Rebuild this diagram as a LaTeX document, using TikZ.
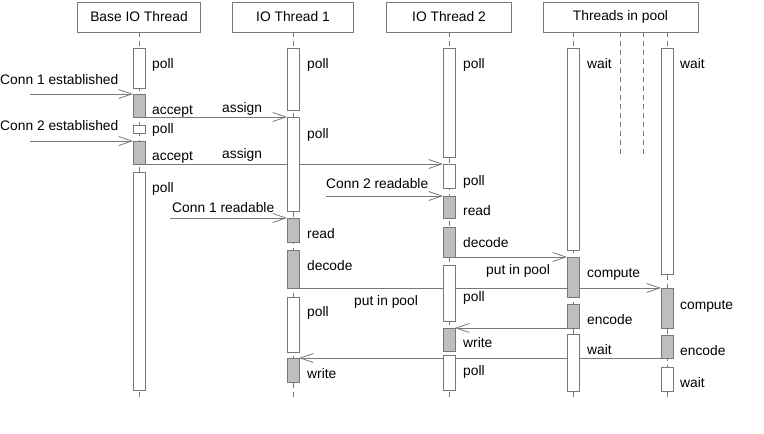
\documentclass[tikz,border=0pt]{standalone}
\usepackage{fontspec}
\setmainfont{Liberation Sans}
\usetikzlibrary{arrows.meta,backgrounds}

\definecolor{edgegrey}{RGB}{120,120,120}
\definecolor{busygrey}{RGB}{190,190,190}

\tikzset{
  head/.style={draw=edgegrey, line width=0.8pt, fill=white, minimum height=30pt, inner sep=0pt},
  bar/.style={draw=edgegrey, line width=0.8pt, minimum width=12pt, inner sep=0pt, outer sep=0pt},
  idle/.style={fill=white},
  busy/.style={fill=busygrey},
  life/.style={draw=edgegrey, line width=0.7pt, dash pattern=on 5pt off 4pt},
  msg/.style={draw=edgegrey, line width=0.8pt, -{Straight Barb[length=13pt,width=9pt]}},
  tag/.style={anchor=west, inner sep=0pt, text height=10pt, text depth=0pt}
}

\begin{document}
\begin{tikzpicture}[x=1pt, y=-1pt, font=\fontsize{13.8}{16}\selectfont]
  \useasboundingbox (0,0) rectangle (764,434);

  % thread heads
  \node[head, minimum width=123pt] (hbase) at (139,17) {Base IO Thread};
  \node[head, minimum width=121pt] (hone)  at (293,17) {IO Thread 1};
  \node[head, minimum width=125pt] (htwo)  at (449,17) {IO Thread 2};
  \node[head, minimum width=155pt] (hpool) at (620.5,17) {Threads in pool};

  % activation bars: name / x / top / bottom / kind
  \foreach \nm / \x / \t / \b / \kind in {
    bp1/139/48/88/idle, ba1/139/94/117/busy, bp2/139/125/133/idle,
    ba2/139/141/164/busy, bp3/139/172/390/idle,
    ap1/293/48/110/idle, ap2/293/117/211/idle, ar/293/218/242/busy,
    ad/293/250/288/busy, ap3/293/297/352/idle, aw/293/358/382/busy,
    cp1/449/48/157/idle, cp2/449/164/188/idle, cr/449/196/218/busy,
    cd/449/227/257/busy, cp3/449/265/321/idle, cw/449/328/351/busy,
    cp4/449/355/390/idle,
    dw1/573/48/250/idle, dc/573/257/297/busy, de/573/304/328/busy,
    dw2/573/334/391/idle,
    ew1/667/48/274/idle, ec/667/288/328/busy, ee/667/335/358/busy,
    ew2/667/367/391/idle}{
    \node[bar, \kind, minimum height={(\b-\t)*1pt}] (\nm) at (\x,{(\t+\b)/2}) {};
  }

  % state labels
  \foreach \x / \y / \txt [count=\i] in {
    152/63/poll, 152/109/accept, 152/128/poll, 152/155/accept, 152/187/poll,
    307/63/poll, 307/133/poll, 307/233/read, 307/265/decode, 307/311/poll, 307/373/write,
    463/63/poll, 463/180/poll, 463/210/read, 463/242/decode, 463/296/poll,
    463/342/write, 463/370/poll,
    587/63/wait, 587/272/compute, 587/319/encode, 587/349/wait,
    680/63/wait, 680/304/compute, 680/350/encode, 680/382/wait}{
    \node[tag] (st-\i) at (\x,\y) {\txt};
  }

  % message labels
  \node[tag] (lc1) at (0,79)   {Conn 1 established};
  \node[tag] (lc2) at (0,125)  {Conn 2 established};
  \node[tag] (las1) at (222,107) {assign};
  \node[tag] (las2) at (222,153) {assign};
  \node[tag] (lrd1) at (172,207) {Conn 1 readable};
  \node[tag] (lrd2) at (326,183) {Conn 2 readable};
  \node[tag] (lpp1) at (486,269) {put in pool};
  \node[tag] (lpp2) at (354,300) {put in pool};

  % free ends of incoming events
  \coordinate (in1) at (30,94);
  \coordinate (in2) at (30,141);
  \coordinate (in3) at (170,218);
  \coordinate (in4) at (326,196);

  \coordinate (endbase) at (139,397);
  \coordinate (endone)  at (293,397);
  \coordinate (endtwo)  at (449,397);
  \coordinate (endp1)   at (573,397);
  \coordinate (endp2)   at (667,397);
  \coordinate (endx1)   at (620,157);
  \coordinate (endx2)   at (643,157);

  \begin{pgfonlayer}{background}
    % life lines
    \draw[life] (hbase.south) -- (endbase);
    \draw[life] (hone.south) -- (endone);
    \draw[life] (htwo.south) -- (endtwo);
    \draw[life] (hpool.south -| endp1) -- (endp1);
    \draw[life] (hpool.south -| endp2) -- (endp2);
    \draw[life] (hpool.south -| endx1) -- (endx1);
    \draw[life] (hpool.south -| endx2) -- (endx2);

    % messages
    \draw[msg] (in1) -- (ba1.north west);
    \draw[msg] (in2) -- (ba2.north west);
    \draw[msg] (ba1.south east) -- (ap2.north west);
    \draw[msg] (ba2.south east) -- (cp2.north west);
    \draw[msg] (in3) -- (ar.north west);
    \draw[msg] (in4) -- (cr.north west);
    \draw[msg] (cd.south east) -- (dc.north west);
    \draw[msg] (ad.south east) -- (ec.north west);
    \draw[msg] (de.south west) -- (cw.north east);
    \draw[msg] (ee.south west) -- (aw.north east);
  \end{pgfonlayer}
\end{tikzpicture}
\end{document}
